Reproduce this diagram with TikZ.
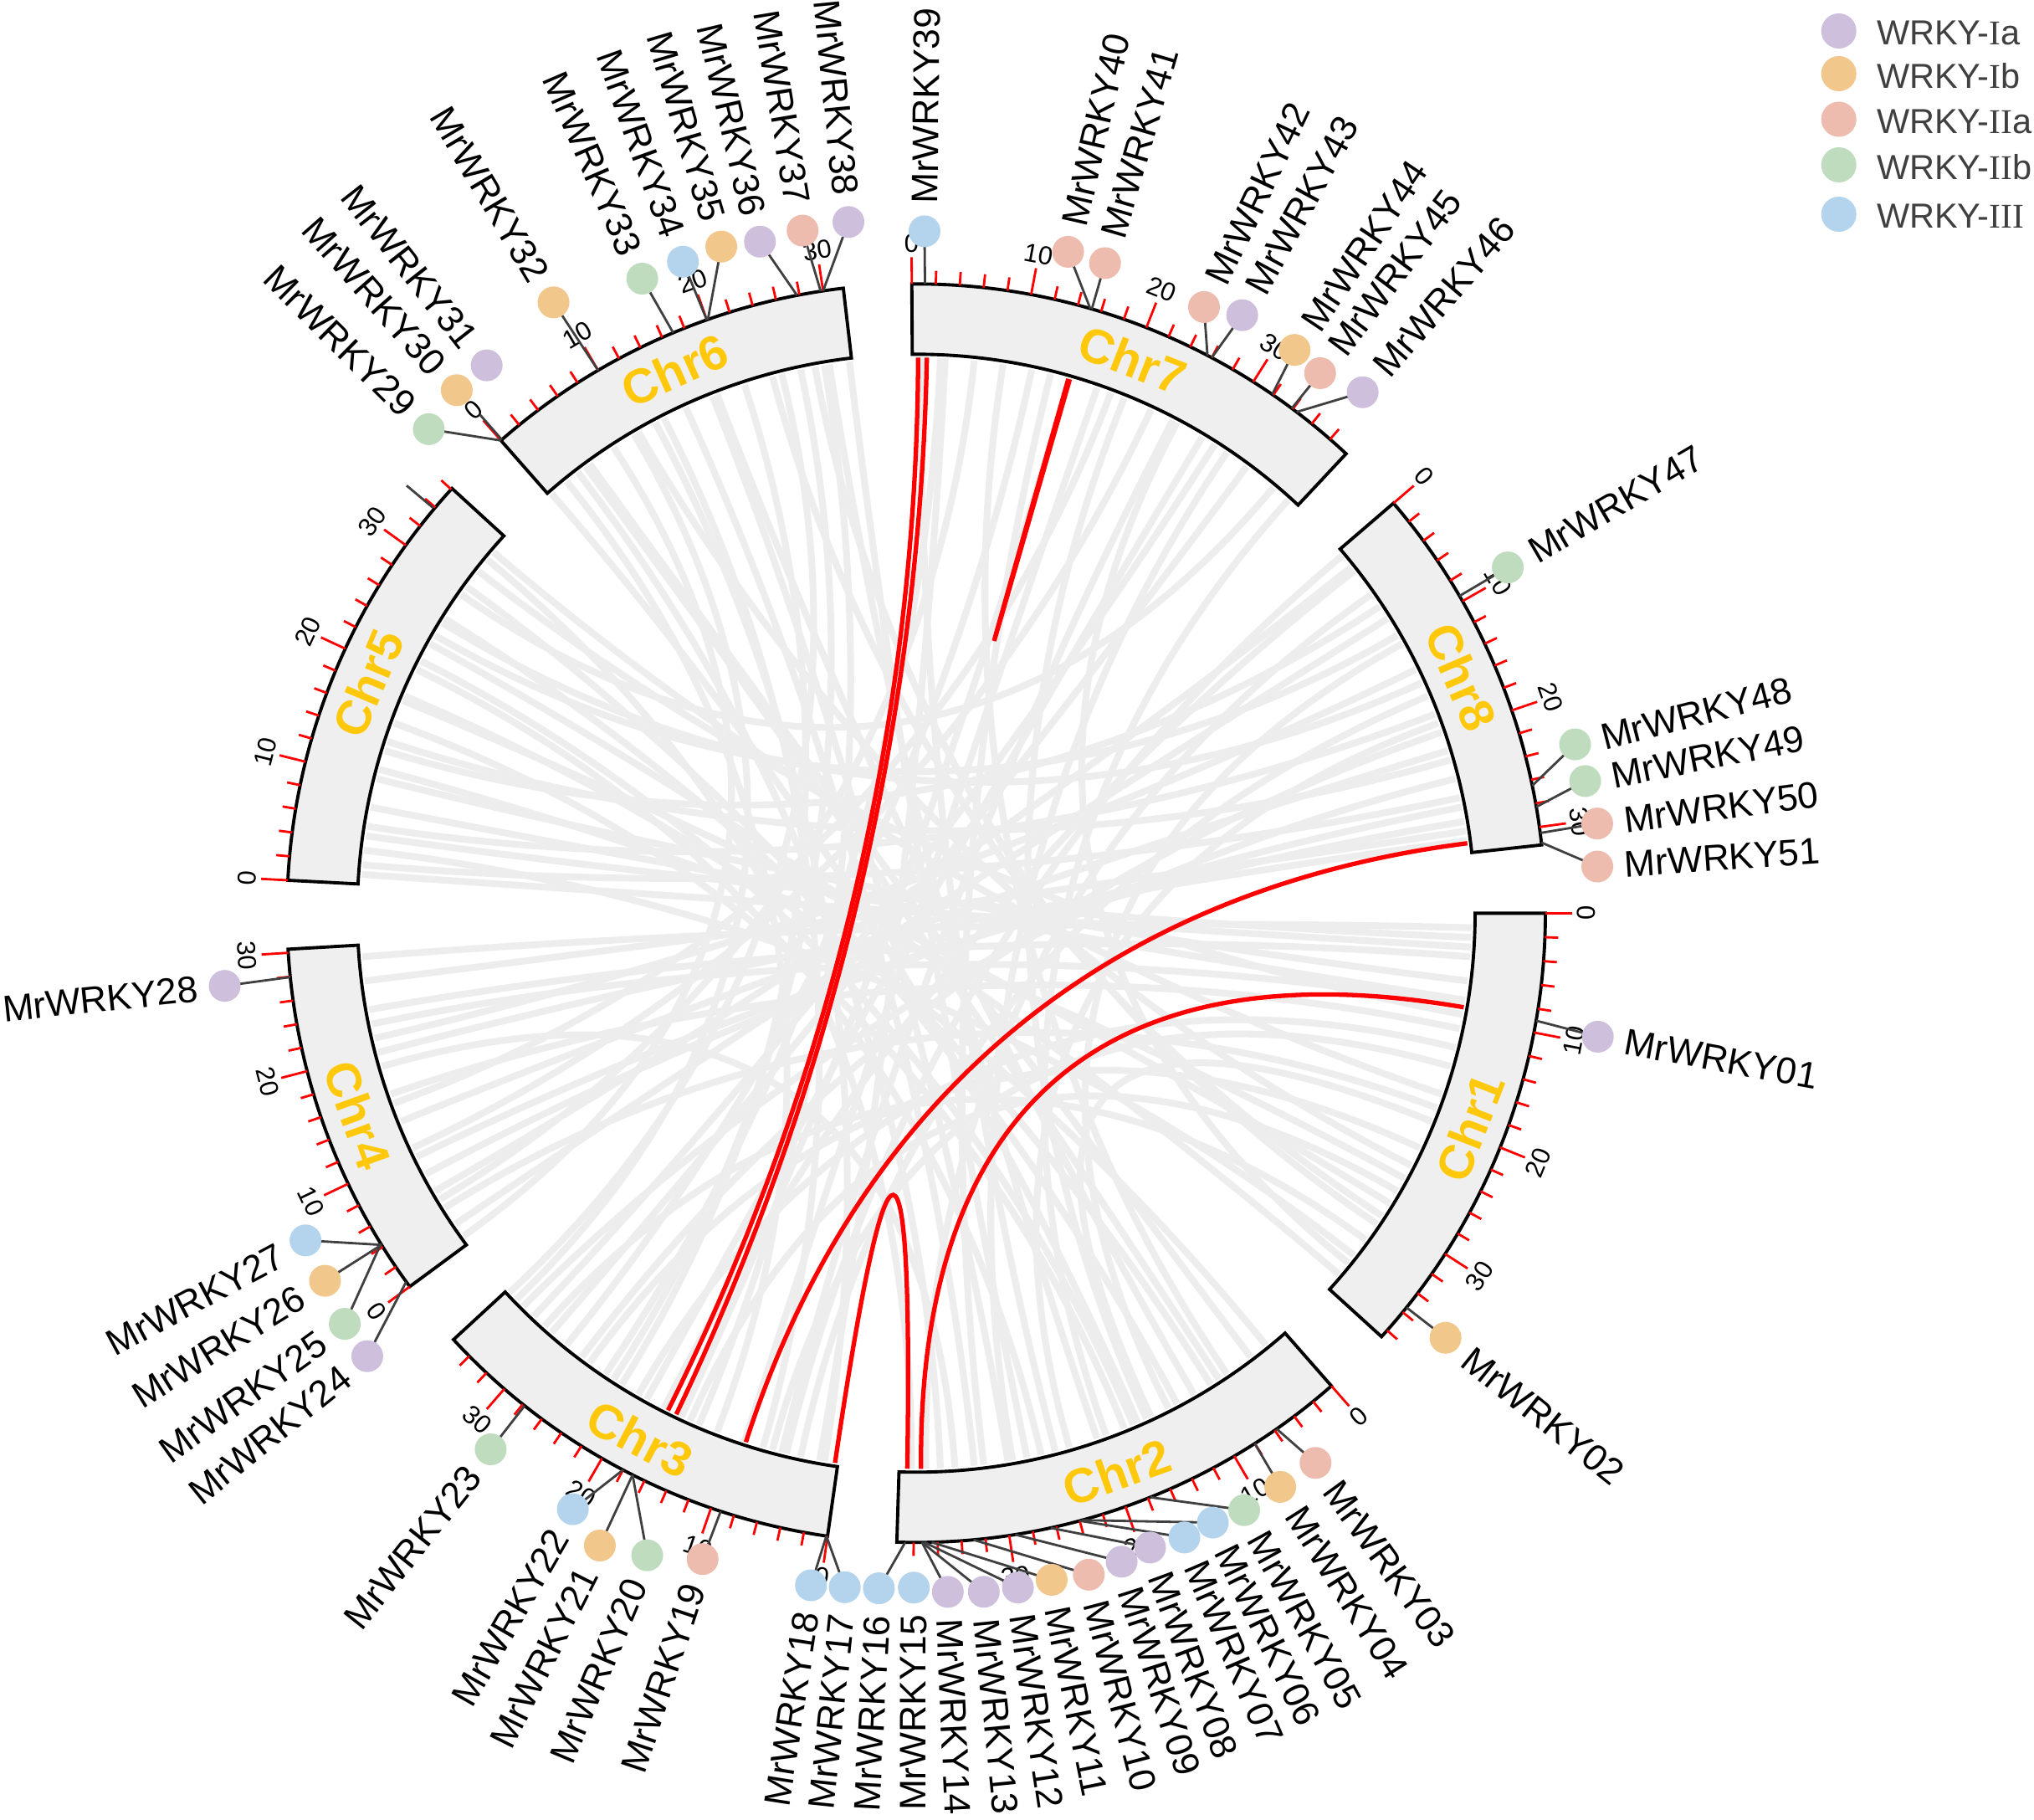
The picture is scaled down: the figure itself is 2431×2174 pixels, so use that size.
\documentclass[tikz,border=0pt]{standalone}
\usepackage{fontspec}
\setmainfont{Liberation Sans}
\newfontfamily\serifI{Liberation Serif}
\definecolor{linkgray}{RGB}{237,237,237}
\definecolor{boxgray}{RGB}{239,239,239}
\definecolor{chrgold}{RGB}{255,200,10}
\definecolor{geneline}{RGB}{64,64,64}
\definecolor{cIa}{RGB}{206,192,221}
\definecolor{cIb}{RGB}{241,199,140}
\definecolor{cIIa}{RGB}{238,188,175}
\definecolor{cIIb}{RGB}{191,221,190}
\definecolor{cIII}{RGB}{180,211,236}
\definecolor{legtext}{RGB}{64,64,64}
\def\genes{0/9.0/-10.27/828/cIa/01/1, 0/35.5/-38.73/811/cIb/02/1,
-48.7/5.8/-54.0/812/cIIa/03/1, -48.7/8.0/-57.6/812/cIb/04/1, -48.7/17.8/-61.21/814/cIIb/05/1,
-48.7/23.8/-64.04/810/cIII/06/1, -48.7/24.0/-66.75/812/cIII/07/1, -48.7/26.5/-69.76/808/cIa/08/1,
-48.7/29.5/-72.42/813/cIa/09/1, -48.7/33.0/-75.37/817/cIIa/10/1, -48.7/36.5/-78.51/813/cIb/11/1,
-48.7/37.1/-81.42/815/cIa/12/1, -48.7/37.3/-84.31/815/cIa/13/1, -48.7/37.3/-87.33/812/cIa/14/1,
-48.7/38.0/-90.2/806/cIII/15/0, -48.7/38.7/-93.16/808/cIII/16/1,
-98.1/0.1/-96.05/810/cIII/17/1, -98.1/0.1/-98.9/813/cIII/18/1, -98.1/9.15/-108.3/813/cIIa/19/1,
-98.1/17.1/-112.73/832/cIIb/20/1, -98.1/17.1/-116.58/845/cIb/21/1, -98.1/18.0/-119.95/822/cIII/22/1,
-98.1/27.8/-128.44/818/cIIb/23/1,
-143.6/0.5/-141.1/843/cIa/24/1, -143.6/4.3/-144.3/841/cIIb/25/1, -143.6/4.2/-148.13/832/cIb/26/1,
-143.6/4.2/-151.82/828/cIII/27/1, -143.6/27.97/-174.0/831/cIa/28/1,
131.3/0/135.2/821/cIIb/29/1, 131.3/0.1/131.3/832/cIb/30/2, 131.3/0.4/128.1/832/cIa/31/0,
131.3/10.0/120.7/849/cIb/32/1, 131.3/17.0/113.35/826/cIIb/33/1, 131.3/20.0/109.7/827/cIII/34/1,
131.3/20.1/106.3/830/cIb/35/1, 131.3/27.8/103.1/824/cIa/36/1, 131.3/29.8/99.45/827/cIIa/37/1,
131.3/30.0/95.6/830/cIa/38/1,
90.4/1.1/89.3/815/cIII/39/1, 90.4/15.06/77.06/811/cIIa/40/1, 90.4/15.2/73.8/809/cIIa/41/1,
90.4/25.6/64.6/802/cIIa/42/1, 90.4/26.0/61.4/814/cIa/43/1, 90.4/31.9/56.1/811/cIb/44/1,
90.4/33.9/53.2/806/cIIa/45/1, 90.4/34.4/49.4/820/cIa/46/1,
40.66/9.5/30.3/819/cIIb/47/1, 40.66/26.5/14.37/813/cIIb/48/1, 40.66/28.3/11.17/815/cIIb/49/1,
40.66/30.5/7.5/821/cIIa/50/1, 40.66/31.3/3.92/816/cIIa/51/1}
\begin{document}
\begin{tikzpicture}[x=0.01cm,y=0.01cm,
  glink/.style={draw=linkgray,line width=2.3pt},
  rlink/.style={draw=red,line width=1.5pt},
  chrbox/.style={draw=black,fill=boxgray,line width=1.1pt,line join=miter},
  tickmark/.style={draw=red,line width=0.8pt},
  ticklab/.style={font=\fontsize{8.8}{10}\selectfont,inner sep=0pt},
  chrlab/.style={font=\fontsize{16.5}{18}\selectfont\bfseries,text=chrgold,inner sep=0pt},
  genelab/.style={font=\fontsize{12.6}{14}\selectfont,inner sep=0pt},
  gline/.style={draw=geneline,line width=0.8pt},
  gdot/.style={circle,inner sep=0pt,minimum size=0.38cm},
  legdot/.style={circle,inner sep=0pt,minimum size=0.42cm},
  legtxt/.style={font=\fontsize{11.8}{13}\selectfont,text=legtext,inner sep=0pt,anchor=west}]
\fill[white] (-1095,-1082.7) rectangle (1336,1091.3);
\useasboundingbox (-1095,-1082.7) rectangle (1336,1091.3);
% grey links
\foreach \la/\lb in {-1.5/-175.5, -2.5/172, -4.5/-170, -7/166, -12/-161, -14/-120, -16/-105, -19/139.5, -22/-65, -25/-126, -27/120, -30/-114, -33/105, -36/-132, -39/62,
-51/157, -53/126, -56/81, -58/148, -60/111, -63/29, -65.5/68, -68/160, -71/99, -74/20, -77/154, -80/56, -84/114.5, -86/-164, -89/35,
-100/87, -102/23, -108/71, -111/129, -117/38, -123/102, -129/78, -135/14, -106/117, -119/59,
-146/32, -149/84, -152/11, -155/65, -158/17, -167/26, -173/8.5, -144.5/123,
175/12, 169/-9, 163/33.5, 151/-40.5, 145/50, 142/-10.5, 157.5/-31.5, 148.5/24.5,
108/-122, 120.5/-136, 99.5/-113, 111.5/-80.5, 126.5/-57,
87.5/-124, 76/-83, 62.5/-104, 53.5/-131, 48/-70,
38.5/-150, 21/171, 30/150, 16/162, 9.5/-154,
-3.5/176, -9.5/-168.5, -20.5/-148, -34/100.5, -62/144, -66.5/131, -75.5/89.5, -87.5/127.5, -103.5/40, -115/74, -127/19, -133.5/57.5, -160/69.5, -165.5/7.5, 173.5/-38, 165/-28.5, 153/-67, 140.5/-90.5, 118/-99.5, 104/-137, 96.9/-78.5}{
  \draw[glink] (\la:664) .. controls (\la:230) and (\lb:230) .. (\lb:664);
}
% red links
\foreach \la/\lb in {89.8/-116.53, 88.9/-115.59, 74.1/73.95, 7.23/-107.85, -9.75/-89.5, -98.4/-90.92}{
  \draw[rlink] (\la:664) .. controls (\la:230) and (\lb:230) .. (\lb:664);
}
% chromosome boxes and labels
\foreach \nm/\st/\tl in {Chr1/0/38.7, Chr2/-48.7/39.4, Chr3/-98.1/35.9, Chr4/-143.6/30.3, Chr5/177/36.1, Chr6/131.3/31.7, Chr7/90.4/39.8, Chr8/40.66/31.5}{
  \pgfmathsetmacro{\enda}{\st-1.093*\tl}
  \draw[chrbox] (\st:752) arc[start angle=\st,end angle=\enda,radius=752] -- (\enda:668) arc[start angle=\enda,end angle=\st,radius=668] -- cycle;
  \pgfmathsetmacro{\mdd}{\st-1.093*\tl/2}
  \pgfmathsetmacro{\rtt}{sin(\mdd)>0 ? \mdd-90 : \mdd+90}
  \node[chrlab,rotate=\rtt] (\nm) at (\mdd:710) {\nm};
}
% ticks
\foreach \st/\nn in {0/19,-48.7/19,-98.1/17,-143.6/15,177/18,131.3/15,90.4/19,40.66/15}{
  \foreach \k in {0,...,\nn}{
    \pgfmathsetmacro{\ang}{\st-2.186*\k}
    \pgfmathsetmacro{\tr}{mod(\k,5)==0 ? 784 : 768}
    \draw[tickmark] (\ang:752) -- (\ang:\tr);
  }
}
\foreach \st in {0,-48.7,-98.1,-143.6,177,131.3,90.4,40.66}{
  \foreach \k in {0,1,2,3}{
    \pgfmathsetmacro{\ang}{\st-10.93*\k}
    \pgfmathsetmacro{\rtt}{sin(\ang)>0 ? \ang-90 : \ang+90}
    \node[ticklab,rotate=\rtt] at (\ang:801) {\ifnum\k=0 0\else\k0\fi};
  }
}
% gene connector lines
\coordinate (s1) at (140:754);
\coordinate (s2) at (140:795);
\draw[gline] (s1) -- (s2);
\foreach \st/\pp/\ca/\rad/\col/\gn/\tp in \genes {
  \pgfmathsetmacro{\pa}{\st-1.093*\pp}
  \coordinate (p\gn) at (\pa:752);
  \coordinate (c\gn) at (\ca:\rad);
  \coordinate (q\gn) at (\pa:792);
  \ifnum\tp=1 \draw[gline] (p\gn) -- (c\gn); \fi
  \ifnum\tp=2 \draw[gline] (p\gn) -- (q\gn); \fi
}
% gene dots and labels
\foreach \st/\pp/\ca/\rad/\col/\gn/\tp in \genes {
  \node[gdot,fill=\col] (g\gn) at (c\gn) {};
  \pgfmathsetmacro{\rl}{\rad+32}
  \pgfmathtruncatemacro{\sd}{cos(\ca)>=0 ? 1 : 0}
  \ifnum\sd=1
    \node[genelab,anchor=west,rotate=\ca] (t\gn) at (\ca:\rl) {MrWRKY\gn};
  \else
    \pgfmathsetmacro{\rcc}{\ca+180}
    \node[genelab,anchor=east,rotate=\rcc] (t\gn) at (\ca:\rl) {MrWRKY\gn};
  \fi
}
% legend
\foreach \yy/\col/\txt in {37/cIa/{WRKY-{\serifI I}a}, 88/cIb/{WRKY-{\serifI I}b}, 142.5/cIIa/{WRKY-{\serifI II}a}, 197/cIIb/{WRKY-{\serifI II}b}, 256/cIII/{WRKY-{\serifI III}}}{
  \pgfmathsetmacro{\yc}{1091.3-\yy}
  \pgfmathsetmacro{\yt}{1091.3-\yy-2.5}
  \node[legdot,fill=\col] at (1102.7,\yc) {};
  \node[legtxt] at (1147.3,\yt) {\txt};
}
\end{tikzpicture}
\end{document}
